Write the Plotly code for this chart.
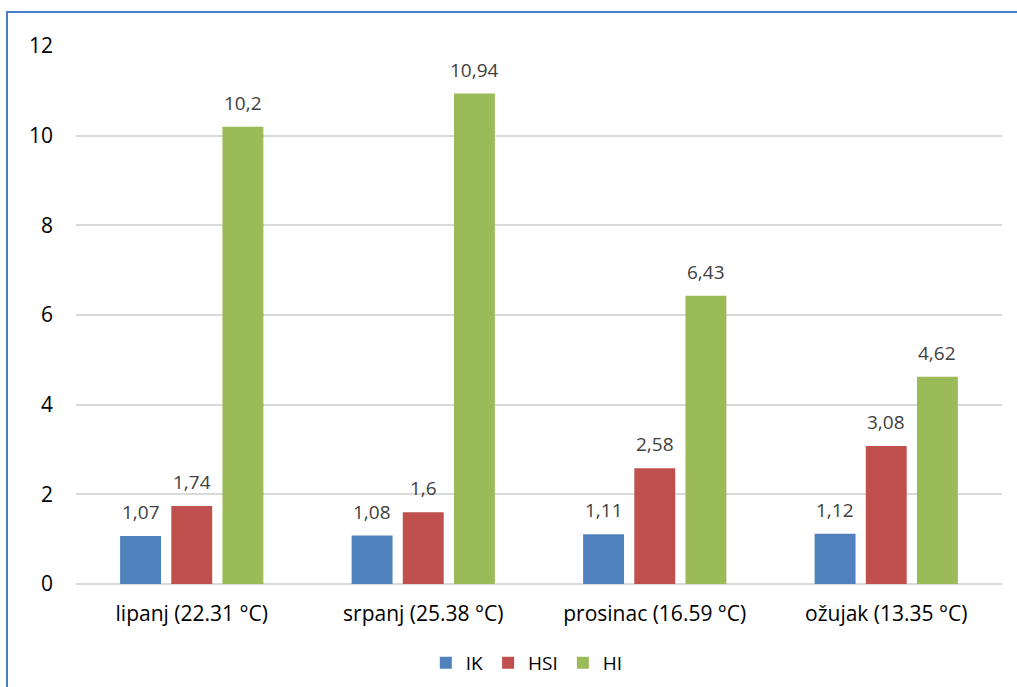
import plotly.graph_objects as go

# Categories (month with mean temperature) and index values per series
categories = ["lipanj (22.31 °C)", "srpanj (25.38 °C)", "prosinac (16.59 °C)", "ožujak (13.35 °C)"]
ik_values = [1.07, 1.08, 1.11, 1.12]
hsi_values = [1.74, 1.6, 2.58, 3.08]
hi_values = [10.2, 10.94, 6.43, 4.62]
y_ticks = [0, 2, 4, 6, 8, 10, 12]

def fmt(v):
    # decimal comma, no trailing zeros
    return ("%g" % v).replace(".", ",")

series = [
    ("IK", ik_values, "#4F81BD"),
    ("HSI", hsi_values, "#C0504D"),
    ("HI", hi_values, "#9BBB59"),
]

FONT = "Open Sans, sans-serif"
AXIS_FS = 21
LABEL_FS = 19
LEGEND_FS = 19

fig = go.Figure()
for name, vals, color in series:
    fig.add_trace(go.Bar(
        name=name,
        x=categories,
        y=vals,
        marker=dict(color=color, line=dict(width=0)),
        offsetgroup=name,
    ))

# value labels above each bar, placed on the bar's own category/offset
n = len(series)
for i, (name, vals, color) in enumerate(series):
    for j, v in enumerate(vals):
        fig.add_annotation(
            x=j, y=v, xref="x", yref="y",
            text=fmt(v),
            showarrow=False,
            yanchor="bottom",
            yshift=9,
            xshift=(i - (n - 1) / 2) * 51.2,
            font=dict(family=FONT, size=LABEL_FS, color="#404040"),
        )

fig.update_layout(
    width=1017,
    height=687,
    barmode="group",
    bargap=0.337,
    bargroupgap=0.2,
    plot_bgcolor="white",
    paper_bgcolor="white",
    margin=dict(l=76, r=15, t=46, b=103, autoexpand=False),
    font=dict(family=FONT, size=AXIS_FS, color="#000000"),
    showlegend=True,
    legend=dict(
        orientation="h",
        x=0.518, xanchor="center", xref="container",
        y=24 / 687, yanchor="middle", yref="container",
        font=dict(family=FONT, size=LEGEND_FS, color="#000000"),
        itemwidth=30,
        traceorder="normal",
    ),
    yaxis=dict(
        range=[0, 12],
        tickvals=y_ticks,
        ticktext=[str(t) for t in y_ticks],
        showgrid=True,
        gridcolor="#D9D9D9",
        gridwidth=1.5,
        zeroline=True,
        zerolinecolor="#D9D9D9",
        zerolinewidth=1.5,
        ticks="",
        ticklabelstandoff=22,
        tickfont=dict(family=FONT, size=AXIS_FS, color="#000000"),
    ),
    xaxis=dict(
        showline=False,
        ticks="",
        ticklabelstandoff=15,
        tickfont=dict(family=FONT, size=AXIS_FS, color="#000000"),
    ),
    shapes=[dict(
        type="rect", xref="paper", yref="paper",
        x0=-69/926, x1=1.05, y0=-0.3, y1=1 + 34/538,
        line=dict(color="#4A7EC4", width=2),
        fillcolor="rgba(0,0,0,0)",
        layer="below",
    )],
)

fig.write_html("out.html")
